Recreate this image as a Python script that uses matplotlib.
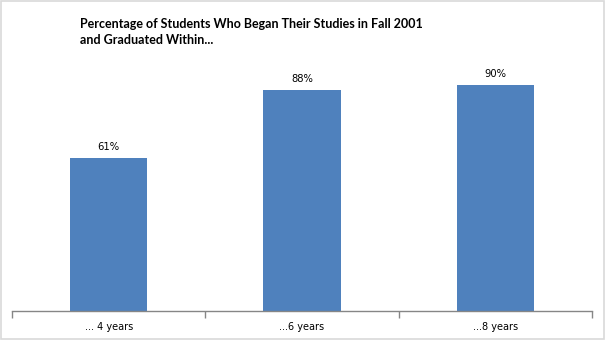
import matplotlib.pyplot as plt
from matplotlib.patches import Rectangle

categories = ['... 4 years', '...6 years', '...8 years']
values = [61, 88, 90]
labels = ['61%', '88%', '90%']

BAR_COLOR = '#4f81bd'
AXIS_COLOR = '#868686'

fig = plt.figure(figsize=(6.05, 3.4), dpi=100)
fig.patch.set_facecolor('white')
fig.patches.append(Rectangle((0.001, 0.002), 0.997, 0.995, transform=fig.transFigure,
                             fill=False, edgecolor='#d9d9d9', linewidth=1.2))

ax = fig.add_axes([0.0198, 0.0853, 0.9587, 0.7382])
x = list(range(len(categories)))
bars = ax.bar(x, values, width=0.4, color=BAR_COLOR)
for xi, v, lab in zip(x, values, labels):
    ax.text(xi, v + 2.5, lab, ha='center', va='bottom', fontsize=7.2,
            family='DejaVu Sans', color='black')

ax.set_xlim(-0.5, 2.5)
ax.set_ylim(0, 100)
ax.set_yticks([])
ax.set_xticks(x)
ax.set_xticklabels(categories, fontsize=7, family='DejaVu Sans')
ax.tick_params(axis='x', which='major', length=0, pad=8)
ax.set_xticks([-0.5, 0.5, 1.5, 2.5], minor=True)
ax.tick_params(axis='x', which='minor', length=5, color=AXIS_COLOR, width=1)
for s in ['top', 'right', 'left']:
    ax.spines[s].set_visible(False)
ax.spines['bottom'].set_color(AXIS_COLOR)
ax.spines['bottom'].set_linewidth(1)

fig.text(0.132, 1 - 18 / 340,
         'Percentage of Students Who Began Their Studies in Fall 2001\nand Graduated Within...',
         ha='left', va='top', fontsize=9.0, fontweight='bold', family='Lato',
         linespacing=1.45)

fig.savefig('out.png', dpi=100)
